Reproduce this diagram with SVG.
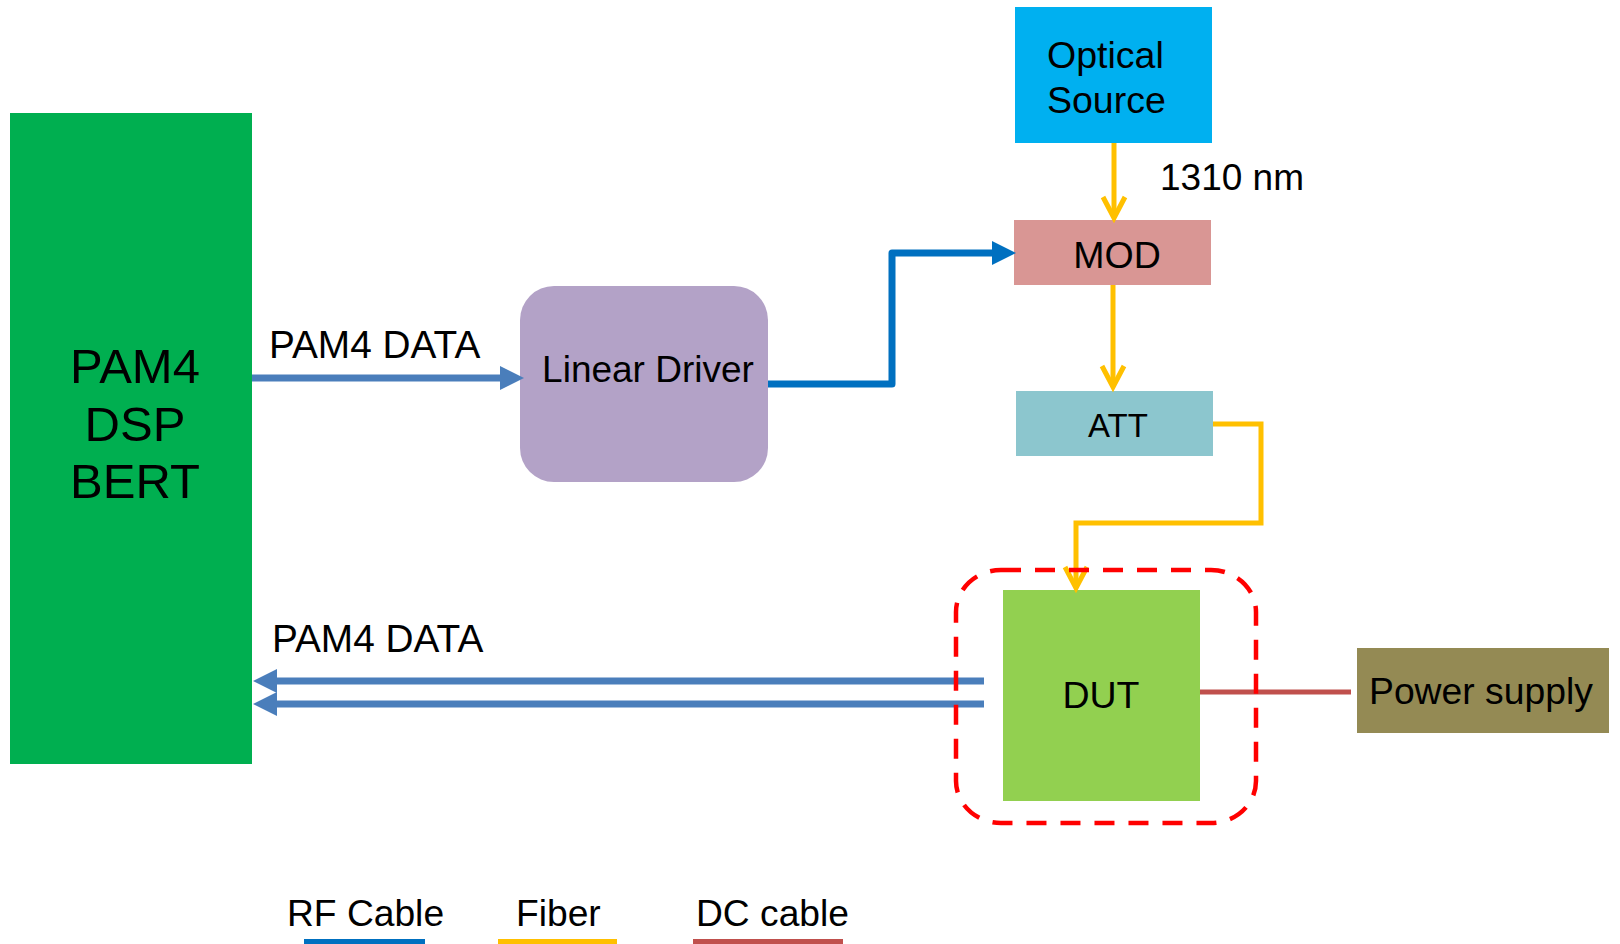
<svg xmlns="http://www.w3.org/2000/svg" width="1620" height="944" viewBox="0 0 1620 944">
<style>
text{font-family:"Liberation Sans",Arial,sans-serif;fill:#000}
.rf{fill:none;stroke:#4A7EBB;stroke-width:7}
.rf2{fill:none;stroke:#0070C0;stroke-width:7;stroke-linejoin:round}
.fib{fill:none;stroke:#FFC000;stroke-width:5}
.dc{fill:none;stroke:#C0504D;stroke-width:5}
</style>
<defs>
<marker id="triA" markerUnits="userSpaceOnUse" viewBox="0 0 24 24" markerWidth="24" markerHeight="24" refX="0" refY="12" orient="auto"><path d="M0,0 L24,12 L0,24 z" fill="#4A7EBB"/></marker>
<marker id="triB" markerUnits="userSpaceOnUse" viewBox="0 0 24 24" markerWidth="24" markerHeight="24" refX="0" refY="12" orient="auto"><path d="M0,0 L24,12 L0,24 z" fill="#0070C0"/></marker>
<marker id="vY" markerUnits="userSpaceOnUse" viewBox="-4 -15 30 30" markerWidth="30" markerHeight="30" refX="21" refY="0" orient="auto"><path d="M0,-11 L21,0 L0,11" fill="none" stroke="#FFC000" stroke-width="5"/></marker>
</defs>

<g id="bert">
<rect x="10" y="113" width="242" height="651" fill="#00AF50"/>
<text x="135" y="383" font-size="49" text-anchor="middle">PAM4</text>
<text x="135" y="441" font-size="49" text-anchor="middle">DSP</text>
<text x="135" y="498" font-size="49" text-anchor="middle">BERT</text>
</g>

<g id="linear-driver">
<rect x="520" y="286" width="248" height="196" rx="34" ry="34" fill="#B3A2C7"/>
<text x="648" y="382" font-size="37" text-anchor="middle">Linear Driver</text>
</g>

<g id="optical-source">
<rect x="1015" y="7" width="197" height="136" fill="#00B0F0"/>
<text x="1047" y="68" font-size="37.5">Optical</text>
<text x="1047" y="113" font-size="37.5">Source</text>
</g>

<g id="mod">
<rect x="1014" y="220" width="197" height="65" fill="#D99694"/>
<text x="1117" y="268" font-size="37.5" text-anchor="middle">MOD</text>
</g>

<g id="att">
<rect x="1016" y="391" width="197" height="65" fill="#8CC6CE"/>
<text x="1118" y="437" font-size="33" text-anchor="middle">ATT</text>
</g>

<g id="dut">
<rect x="1003" y="590" width="197" height="211" fill="#92D050"/>
<text x="1101" y="708" font-size="37.5" text-anchor="middle">DUT</text>
</g>

<g id="power-supply">
<rect x="1357" y="648" width="252" height="85" fill="#948A54"/>
<text x="1369" y="704" font-size="37.3">Power supply</text>
</g>

<g id="connectors">
<line class="rf" x1="252" y1="378" x2="500" y2="378" marker-end="url(#triA)"/>
<polyline class="rf2" points="768,384 892,384 892,253 992,253" marker-end="url(#triB)"/>
<line class="fib" x1="1114" y1="143" x2="1114" y2="218" marker-end="url(#vY)"/>
<line class="fib" x1="1113" y1="285" x2="1113" y2="387" marker-end="url(#vY)"/>
<polyline class="fib" points="1213,424 1261,424 1261,523 1076,523 1076,588" marker-end="url(#vY)"/>
<line class="rf" x1="984" y1="681" x2="277" y2="681" marker-end="url(#triA)"/>
<line class="rf" x1="984" y1="704" x2="277" y2="704" marker-end="url(#triA)"/>
<line class="dc" x1="1200" y1="692" x2="1351" y2="692"/>
<text x="269" y="358" font-size="38.8">PAM4 DATA</text>
<text x="272" y="652" font-size="38.8">PAM4 DATA</text>
<text x="1160" y="190" font-size="37">1310 nm</text>
</g>

<g id="dut-boundary">
<rect x="956" y="570" width="300" height="253" rx="45" ry="42" fill="none" stroke="#FF0000" stroke-width="4.5" stroke-dasharray="20 14"/>
</g>

<g id="legend">
<text x="287" y="926" font-size="37.2">RF Cable</text>
<line x1="304" y1="942" x2="425" y2="942" stroke="#0070C0" stroke-width="6"/>
<text x="516" y="926" font-size="37.2">Fiber</text>
<line x1="498" y1="942" x2="617" y2="942" stroke="#FFC000" stroke-width="6"/>
<text x="696" y="926" font-size="37.2">DC cable</text>
<line x1="693" y1="942" x2="843" y2="942" stroke="#C0504D" stroke-width="6"/>
</g>
</svg>
